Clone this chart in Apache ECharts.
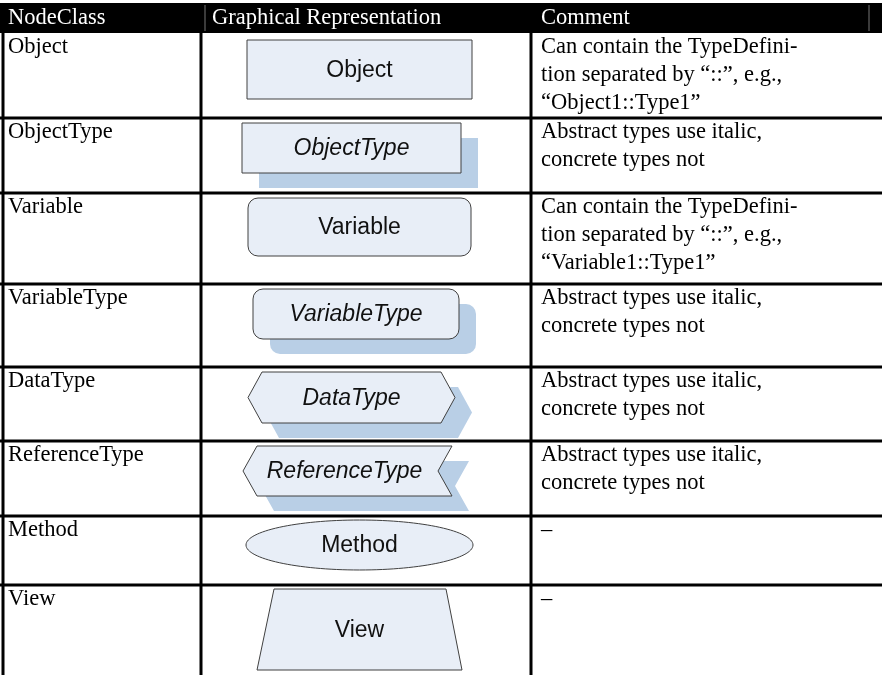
<!DOCTYPE html>
<html>
<head>
<meta charset="utf-8">
<script src="https://cdn.jsdelivr.net/npm/echarts@6/dist/echarts.min.js"></script>
<style>
html,body{margin:0;padding:0;background:#fff;}
#chart{width:882px;height:675px;}
</style>
</head>
<body>
<div id="chart"></div>
<script>
// ---------- data ----------
const headers = ['NodeClass', 'Graphical Representation', 'Comment'];
const nodeClasses = ['Object', 'ObjectType', 'Variable', 'VariableType', 'DataType', 'ReferenceType', 'Method', 'View'];
const shapeKinds = ['rect', 'rect', 'round', 'round', 'hexagon', 'reference', 'ellipse', 'trapezoid'];
const abstractFlags = [false, true, false, true, true, true, false, false];
const comments = [
  ['Can contain the TypeDefini-', 'tion separated by \u201c::\u201d, e.g.,', '\u201cObject1::Type1\u201d'],
  ['Abstract types use italic,', 'concrete types not'],
  ['Can contain the TypeDefini-', 'tion separated by \u201c::\u201d, e.g.,', '\u201cVariable1::Type1\u201d'],
  ['Abstract types use italic,', 'concrete types not'],
  ['Abstract types use italic,', 'concrete types not'],
  ['Abstract types use italic,', 'concrete types not'],
  ['\u2013'],
  ['\u2013']
];

// ---------- layout (table units = pixels on the hidden axes) ----------
const W = 882, H = 675;
const headerTop = 3, headerBottom = 33;
const rowEdges = [33, 118, 193, 284, 367, 441, 516, 585, 720];
const colLines = [3, 201, 531];
const textX = [8, 0, 541];
const headerX = [8, 212, 541];
const lineStep = 28;
const serifFont = '22.5px "Liberation Serif", "Times New Roman", serif';
// main shape box: [left, right, top offset from row top, height]
const shapeBox = [
  [247, 472, 7, 59],
  [242, 461, 5, 50],
  [248, 471, 5, 58],
  [253, 459, 5, 50],
  [248, 455, 5, 51],
  [243, 452, 5, 50],
  [246, 473, 4, 50],
  [257, 462, 4, 81]
];
const shadowOffset = [17, 15];
const fillMain = '#e8eef7', fillShadow = '#b9cfe6', strokeShape = '#404040';

const chart = echarts.init(document.getElementById('chart'), null, {renderer: 'canvas'});

function shapePath(kind, l, r, t, h, api, fill, stroke) {
  const P = (x, y) => api.coord([x, y]);
  const b = t + h, m = t + h / 2;
  const st = {fill: fill, stroke: stroke || null, lineWidth: stroke ? 1 : 0};
  if (kind === 'rect' || kind === 'round') {
    const a = P(l, t), c = P(r, b);
    return {type: 'rect', shape: {x: a[0], y: a[1], width: c[0] - a[0], height: c[1] - a[1], r: kind === 'round' ? 10 : 0}, style: st};
  }
  if (kind === 'ellipse') {
    const a = P(l, t), c = P(r, b);
    return {type: 'ellipse', shape: {cx: (a[0] + c[0]) / 2, cy: (a[1] + c[1]) / 2, rx: (c[0] - a[0]) / 2, ry: (c[1] - a[1]) / 2}, style: st};
  }
  let pts;
  if (kind === 'hexagon') {
    pts = [P(l + 14, t), P(r - 14, t), P(r, m), P(r - 14, b), P(l + 14, b), P(l, m)];
  } else if (kind === 'reference') {
    pts = [P(l + 14, t), P(r, t), P(r - 14, m), P(r, b), P(l + 14, b), P(l, m)];
  } else { // trapezoid
    pts = [P(l + 17, t), P(r - 16, t), P(r, b), P(l, b)];
  }
  return {type: 'polygon', shape: {points: pts}, style: st};
}

function renderRow(params, api) {
  const i = params.dataIndex;
  const top = rowEdges[i];
  const P = (x, y) => api.coord([x, y]);
  const children = [];
  if (i > 0) {
    const a = P(0, top), b = P(W, top);
    children.push({type: 'line', shape: {x1: a[0], y1: a[1], x2: b[0], y2: b[1]}, style: {stroke: '#000', lineWidth: 3}});
  }
  const lp = P(textX[0], top + 3);
  children.push({type: 'text', style: {text: nodeClasses[i], x: lp[0], y: lp[1], fill: '#000',
    font: serifFont, align: 'left', verticalAlign: 'top'}});
  comments[i].forEach(function (line, k) {
    const cp = P(textX[2], top + 3 + k * lineStep);
    children.push({type: 'text', style: {text: line, x: cp[0], y: cp[1], fill: '#000',
      font: serifFont, align: 'left', verticalAlign: 'top'}});
  });
  const sb = shapeBox[i];
  const l = sb[0], r = sb[1], t = top + sb[2], h = sb[3];
  const kind = shapeKinds[i];
  if (abstractFlags[i]) {
    children.push(shapePath(kind, l + shadowOffset[0], r + shadowOffset[0], t + shadowOffset[1], h, api, fillShadow, null));
  }
  children.push(shapePath(kind, l, r, t, h, api, fillMain, strokeShape));
  const tc = P((l + r) / 2 + (kind === 'reference' ? -3 : 0), t + h / 2 + 1);
  children.push({type: 'text', style: {text: nodeClasses[i], x: tc[0], y: tc[1], fill: '#111',
    font: (abstractFlags[i] ? 'italic ' : '') + '23px "Liberation Sans", Arial, sans-serif', align: 'center', verticalAlign: 'middle'}});
  return {type: 'group', children: children};
}

function renderFrame(params, api) {
  const P = (x, y) => api.coord([x, y]);
  const children = [];
  const a = P(0, headerTop), b = P(W, headerBottom);
  children.push({type: 'rect', shape: {x: a[0], y: a[1], width: b[0] - a[0], height: b[1] - a[1]}, style: {fill: '#000'}});
  [205, 869].forEach(function (x) {
    const p1 = P(x, headerTop + 2), p2 = P(x, headerBottom - 2);
    children.push({type: 'line', shape: {x1: p1[0], y1: p1[1], x2: p2[0], y2: p2[1]}, style: {stroke: '#777', lineWidth: 1}});
  });
  headers.forEach(function (t, k) {
    const p = P(headerX[k], headerTop + 15);
    children.push({type: 'text', style: {text: t, x: p[0], y: p[1], fill: '#fff',
      font: serifFont, align: 'left', verticalAlign: 'middle'}});
  });
  colLines.forEach(function (x) {
    const p1 = P(x, headerBottom), p2 = P(x, H);
    children.push({type: 'line', shape: {x1: p1[0], y1: p1[1], x2: p2[0], y2: p2[1]}, style: {stroke: '#000', lineWidth: 3}});
  });
  return {type: 'group', children: children};
}

chart.setOption({
  animation: false,
  grid: {left: 0, right: 0, top: 0, bottom: 0},
  xAxis: {type: 'value', min: 0, max: W, show: false},
  yAxis: {type: 'value', min: 0, max: H, inverse: true, show: false},
  series: [
    {type: 'custom', renderItem: renderRow, data: nodeClasses.map(function (n, i) { return [0, rowEdges[i]]; }), z: 2, clip: false},
    {type: 'custom', renderItem: renderFrame, data: [[0, 0]], z: 3, clip: false}
  ]
});
</script>
</body>
</html>
